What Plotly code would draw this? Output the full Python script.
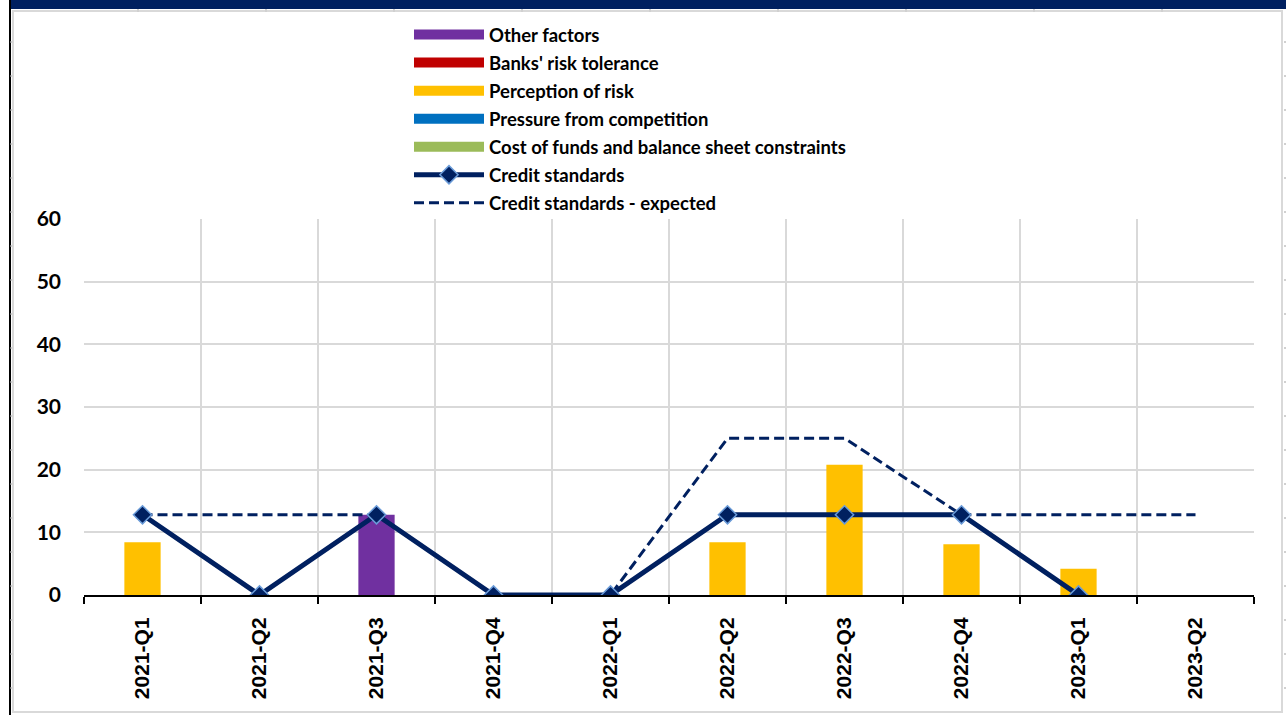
import plotly.graph_objects as go

categories = ["2021-Q1", "2021-Q2", "2021-Q3", "2021-Q4", "2022-Q1",
              "2022-Q2", "2022-Q3", "2022-Q4", "2023-Q1", "2023-Q2"]

cost_of_funds = [0, 0, 0, 0, 0, 0, 0, 0, 0, None]
pressure_competition = [0, 0, 0, 0, 0, 0, 0, 0, 0, None]
perception_risk = [8.4, 0, 0, 0, 0, 8.4, 20.8, 8.1, 4.2, None]
banks_risk_tolerance = [0, 0, 0, 0, 0, 0, 0, 0, 0, None]
other_factors = [0, 0, 12.8, 0, 0, 0, 0, 0, 0, None]
credit_standards = [12.8, 0, 12.8, 0, 0, 12.8, 12.8, 12.8, 0, None]
credit_expected = [12.8, 12.8, 12.8, 0, 0, 25, 25, 12.8, 12.8, 12.8]

y_ticks = [0, 10, 20, 30, 40, 50, 60]

NAVY = "#002060"
bar_series = [
    ("Cost of funds and balance sheet constraints", cost_of_funds, "#9BBB59", 5),
    ("Pressure from competition", pressure_competition, "#0070C0", 4),
    ("Perception of risk", perception_risk, "#FFC000", 3),
    ("Banks' risk tolerance", banks_risk_tolerance, "#C00000", 2),
    ("Other factors", other_factors, "#7030A0", 1),
]

fig = go.Figure()
for name, vals, col, rank in bar_series:
    fig.add_trace(go.Bar(x=categories, y=vals, name=name, marker_color=col,
                         marker_line_width=0, width=0.31, legendgroup=name,
                         showlegend=False))
    fig.add_trace(go.Scatter(x=[None], y=[None], mode="lines", name=name,
                             line=dict(color=col, width=14), legendgroup=name,
                             legendrank=rank))

fig.add_trace(go.Scatter(x=categories, y=credit_expected, mode="lines",
                         name="Credit standards - expected",
                         legendgroup="expected",
                         line=dict(color=NAVY, width=3, dash="10px,5px"),
                         legendrank=7))
fig.add_trace(go.Scatter(x=categories, y=credit_standards, mode="lines+markers",
                         name="Credit standards",
                         legendgroup="standards",
                         line=dict(color=NAVY, width=5),
                         marker=dict(symbol="diamond", size=14, color=NAVY,
                                     line=dict(color="#6A9BD8", width=1.5)),
                         legendrank=6))

# decorative frame (paper coords relative to the plot area 84..1254 x 219..595)
def px(x):
    return (x - 84) / 1170


def py(y):
    return (595 - y) / 376


shapes = []
shapes.append(dict(type="rect", xref="paper", yref="paper", x0=px(13), x1=px(1282),
                   y0=py(712), y1=py(11),
                   line=dict(color="#D9D9D9", width=2), layer="below"))
shapes.append(dict(type="rect", xref="paper", yref="paper", x0=px(11), x1=px(1286),
                   y0=py(9), y1=py(0),
                   fillcolor=NAVY, line=dict(width=0)))
shapes.append(dict(type="line", xref="paper", yref="paper", x0=px(10), x1=px(10),
                   y0=py(715), y1=py(0),
                   line=dict(color="#000000", width=2)))
for k in range(20):
    yy = 42 + 34 * k
    if yy > 705:
        break
    for xa, xb in ((10.5, 12.5), (1284, 1286)):
        shapes.append(dict(type="line", xref="paper", yref="paper",
                           x0=px(xa), x1=px(xb), y0=py(yy), y1=py(yy),
                           line=dict(color="#D0D0D0", width=2)))
for k in range(10):
    xx = 138 + 128 * k
    shapes.append(dict(type="line", xref="paper", yref="paper",
                       x0=px(xx), x1=px(xx), y0=py(9), y1=py(12),
                       line=dict(color="#D0D0D0", width=2)))

fig.update_layout(
    width=1286, height=715,
    margin=dict(l=84, r=32, t=219, b=120, autoexpand=False),
    paper_bgcolor="white", plot_bgcolor="white",
    barmode="relative",
    shapes=shapes,
    showlegend=True,
    legend=dict(xref="container", yref="container", x=409/1286, y=1-16/715,
                xanchor="left", yanchor="top", bgcolor="rgba(0,0,0,0)",
                itemwidth=70, traceorder="grouped", tracegroupgap=1,
                font=dict(family="Lato", size=18.5, color="#000000", weight="bold")),
    xaxis=dict(type="category", range=[-0.5, 9.5], tickson="boundaries",
               showgrid=True, gridcolor="#D9D9D9", gridwidth=2,
               showline=True, linecolor="#000000", linewidth=2,
               ticks="outside", ticklen=7, tickwidth=2, tickcolor="#000000",
               tickangle=-90, ticklabelstandoff=12,
               tickfont=dict(family="Liberation Sans", size=21, color="#000000",
                             weight="bold"),
               fixedrange=True),
    yaxis=dict(range=[0, 60], tickvals=y_ticks, showgrid=True,
               gridcolor="#D9D9D9", gridwidth=2, zeroline=False, showline=False,
               ticks="", ticklabelstandoff=22,
               tickfont=dict(family="Lato", size=21, color="#000000", weight="bold"),
               fixedrange=True),
)

fig.write_html("out.html")
